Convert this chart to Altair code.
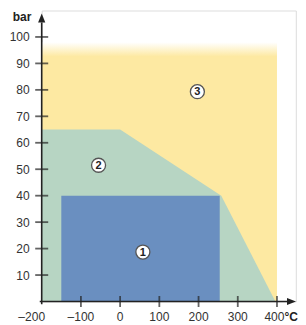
import altair as alt
import pandas as pd

# ---- data ----
x_ticks = [-200, -100, 0, 100, 200, 300, 400]
x_tick_labels = ["–200", "–100", "0", "100", "200", "300", "400"]
y_ticks = [10, 20, 30, 40, 50, 60, 70, 80, 90, 100]

zone3_x = [-200, 400]          # yellow field
zone3_y = [0, 98]
zone2_x = [-200, 0, 258, 396]  # green field outline (top edge)
zone2_top = [65, 65, 40, 0]
zone1_x = [-150, 254]          # blue field
zone1_y = [0, 40]
label_x = [58, -55, 197]
label_y = [18.7, 51.5, 79.3]
label_txt = ["1", "2", "3"]

YELLOW = "#FDE9A2"
GREEN = "#B7D5C3"
BLUE = "#6A8FC0"
INK = "#222222"
FONT = "Liberation Sans"

xs = alt.Scale(domain=[-200, 448], nice=False, zero=False)
ys = alt.Scale(domain=[0, 110], nice=False, zero=False)

xaxis = alt.Axis(values=x_ticks, title=None, labels=False, domain=False, ticks=False, grid=False)
yaxis = alt.Axis(
    values=y_ticks, title="bar", domain=False, ticks=False, tickSize=0, grid=False,
    labelPadding=12.5, labelFontSize=12, labelFont=FONT, labelColor="#333333",
    labelFlush=False,
    titleAngle=0, titleX=-20.2, titleY=9.5, titleAlign="center", titleBaseline="alphabetic",
    titleFont=FONT, titleFontSize=12, titleFontWeight="bold", titleColor=INK,
)

def X(field):
    return alt.X(field, type="quantitative", scale=xs, axis=xaxis)

def Y(field):
    return alt.Y(field, type="quantitative", scale=ys, axis=yaxis)

df3 = pd.DataFrame({"x0": [zone3_x[0]], "x1": [zone3_x[1]], "y0": [zone3_y[0]], "y1": [zone3_y[1]]})
df2 = pd.DataFrame({"x": zone2_x, "y": zone2_top})
df1 = pd.DataFrame({"x0": [zone1_x[0]], "x1": [zone1_x[1]], "y0": [zone1_y[0]], "y1": [zone1_y[1]]})
dfl = pd.DataFrame({"x": label_x, "y": label_y, "t": label_txt})
dfxt = pd.DataFrame({"x": x_ticks[1:], "y": [0] * (len(x_ticks) - 1)})
dfyt = pd.DataFrame({"x": [-200] * len(y_ticks), "y": y_ticks})
dfxl = pd.DataFrame({"x": x_ticks, "y": [0] * len(x_ticks), "t": x_tick_labels})

grad = alt.LinearGradient(
    gradient="linear", x1=0, y1=0, x2=0, y2=1,
    stops=[alt.GradientStop(offset=0, color="#ffffff"),
           alt.GradientStop(offset=0.055, color=YELLOW),
           alt.GradientStop(offset=1, color=YELLOW)],
)

yellow = alt.Chart(df3).mark_rect(fill=grad).encode(
    x=X("x0"), x2="x1", y=Y("y1"), y2="y0")

green = alt.Chart(df2).mark_area(color=GREEN, interpolate="linear").encode(
    x=X("x"), y=Y("y"), y2=alt.datum(0))

blue = alt.Chart(df1).mark_rect(color=BLUE).encode(
    x=X("x0"), x2="x1", y=Y("y1"), y2="y0")

circles = alt.Chart(dfl).mark_point(
    shape="circle", size=196, filled=True, fill="#ffffff", stroke="#555555",
    strokeWidth=1.3, opacity=1).encode(x=X("x"), y=Y("y"))

numbers = alt.Chart(dfl).mark_text(
    font=FONT, fontSize=11, fontWeight="bold", color=INK, align="center",
    baseline="middle", dy=0.5).encode(x=X("x"), y=Y("y"), text="t:N")

axis_df = pd.DataFrame({"x0": [-200, -205], "x1": [-200, 430], "y0": [-1, 0], "y1": [105.5, 0]})
axis_lines = alt.Chart(axis_df).mark_rule(color=INK, strokeWidth=1.6).encode(
    x=X("x0"), x2="x1", y=Y("y0"), y2="y1")

xticks = alt.Chart(dfxt).mark_tick(orient="vertical", size=11, thickness=1.8, color=INK).encode(
    x=X("x"), y=Y("y"))
yticks = alt.Chart(dfyt).mark_tick(orient="horizontal", size=13, thickness=1.8, color=INK).encode(
    x=X("x"), y=Y("y"))

arrow_df = pd.DataFrame({"x": [-200, 437], "y": [107.2, 0], "s": ["up", "right"]})
arrow_up = alt.Chart(arrow_df[arrow_df.s == "up"]).mark_point(
    shape="M-0.8,1L0,-1L0.8,1Z", size=81, filled=True, color=INK, opacity=1).encode(
    x=X("x"), y=Y("y"))
arrow_right = alt.Chart(arrow_df[arrow_df.s == "right"]).mark_point(
    shape="M-1,-0.8L1,0L-1,0.8Z", size=81, filled=True, color=INK, opacity=1).encode(
    x=X("x"), y=Y("y"))

text_style = dict(font=FONT, fontSize=12, color="#333333", baseline="top", dy=10)
xlab_mid = alt.Chart(dfxl.iloc[1:-1]).mark_text(align="center", **text_style).encode(
    x=X("x"), y=Y("y"), text="t:N")
xlab_first = alt.Chart(dfxl.iloc[:1]).mark_text(align="center", dx=-10, **text_style).encode(
    x=X("x"), y=Y("y"), text="t:N")
xlab_last = alt.Chart(dfxl.iloc[-1:]).mark_text(align="right", dx=7.5, **text_style).encode(
    x=X("x"), y=Y("y"), text="t:N")
unit = alt.Chart(dfxl.iloc[-1:]).mark_text(
    align="left", dx=7.5, font=FONT, fontSize=12, fontWeight="bold", color=INK,
    baseline="top", dy=10).encode(x=X("x"), y=Y("y"), text=alt.value("°C"))

chart = alt.layer(
    yellow, green, blue, axis_lines, xticks, yticks, arrow_up, arrow_right, circles, numbers,
    xlab_mid, xlab_first, xlab_last, unit
).properties(
    width=254.1, height=291,
    autosize=alt.AutoSizeParams(type="none"),
    padding={"left": 33.7, "top": 2.5, "right": 2.2, "bottom": 24.5},
).configure_view(stroke=None).configure(background="#ffffff")

chart.save("out.html", embed_options={"renderer": "svg", "actions": False})
